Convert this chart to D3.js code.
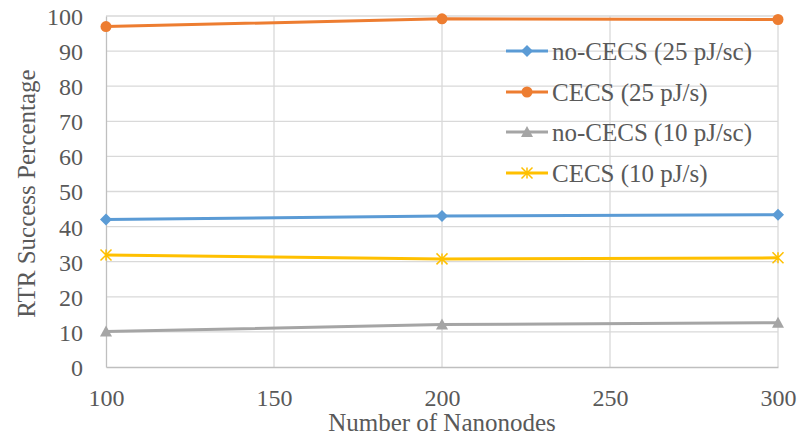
<!DOCTYPE html>
<html><head><meta charset="utf-8">
<script src="https://cdn.jsdelivr.net/npm/d3@7"></script>
<style>body{margin:0;background:#fff}svg{display:block}text{font-family:'Liberation Serif','Times New Roman',serif}</style>
</head><body>
<script>
const nodes = [100, 200, 300];
const noCecs25 = [42, 43, 43.4];
const cecs25 = [97, 99.2, 99];
const noCecs10 = [10.1, 12.1, 12.6];
const cecs10 = [31.9, 30.8, 31.1];
const seriesNames = ["no-CECS (25 pJ/sc)", "CECS (25 pJ/s)", "no-CECS (10 pJ/sc)", "CECS (10 pJ/s)"];
const seriesColors = ["#5b9bd5", "#ed7d31", "#a5a5a5", "#ffc000"];
const seriesMarkers = ["diamond", "circle", "triangle", "star"];
const xTicks = [100, 150, 200, 250, 300];
const yTicks = [0, 10, 20, 30, 40, 50, 60, 70, 80, 90, 100];

const W = 802, H = 442;
const FF = "'Liberation Serif', 'Times New Roman', serif";
const svg = d3.select("body").append("svg").attr("width", W).attr("height", H)
  .attr("font-family", FF);
const x = d3.scaleLinear().domain([100, 300]).range([106, 778]);
const y = d3.scaleLinear().domain([0, 100]).range([367, 16]);

// gridlines
svg.append("g").selectAll("line").data(yTicks.slice(1)).join("line")
  .attr("x1", x(100)).attr("x2", x(300)).attr("y1", d => y(d)).attr("y2", d => y(d))
  .attr("stroke", "#d9d9d9").attr("stroke-width", 1.3);
svg.append("g").selectAll("line").data(xTicks.slice(1)).join("line")
  .attr("x1", d => x(d)).attr("x2", d => x(d)).attr("y1", y(0)).attr("y2", y(100))
  .attr("stroke", "#d9d9d9").attr("stroke-width", 1.3);

// axes
const yAxis = svg.append("g").attr("transform", `translate(${x(100)},0)`)
  .call(d3.axisLeft(y).tickValues(yTicks).tickSize(0).tickPadding(23));
const xAxis = svg.append("g").attr("transform", `translate(0,${y(0)})`)
  .call(d3.axisBottom(x).tickValues(xTicks).tickSize(0).tickPadding(10));
[yAxis, xAxis].forEach(a => {
  a.attr("font-family", FF).attr("font-size", 24);
  a.select(".domain").attr("stroke", "#bfbfbf").attr("stroke-width", 1.3);
  a.selectAll("text").attr("fill", "#595959");
});
yAxis.selectAll("text").attr("dy", "0.35em");
xAxis.selectAll("text").attr("dy", null).attr("y", 39);

// titles
svg.append("text").attr("x", 442).attr("y", 431)
  .attr("text-anchor", "middle").attr("fill", "#595959").attr("font-size", 25)
  .text("Number of Nanonodes");
svg.append("text").attr("transform", `translate(35,${(y(0) + y(100)) / 2 + 2}) rotate(-90)`)
  .attr("text-anchor", "middle").attr("fill", "#595959").attr("font-size", 25)
  .text("RTR Success Percentage");

const allSeries = [noCecs25, cecs25, noCecs10, cecs10];
const line = d3.line().x((d, i) => x(nodes[i])).y(d => y(d));

function drawMarker(g, type, color, cx, cy) {
  if (type === "diamond") {
    g.append("path").attr("d", `M${cx},${cy - 6}L${cx + 6},${cy}L${cx},${cy + 6}L${cx - 6},${cy}Z`).attr("fill", color);
  } else if (type === "circle") {
    g.append("circle").attr("cx", cx).attr("cy", cy).attr("r", 5.5).attr("fill", color);
  } else if (type === "triangle") {
    g.append("path").attr("d", `M${cx},${cy - 6}L${cx + 6},${cy + 5}L${cx - 6},${cy + 5}Z`).attr("fill", color);
  } else if (type === "star") {
    const r = 5.5;
    g.append("path").attr("d", `M${cx - r},${cy - r}L${cx + r},${cy + r}M${cx - r},${cy + r}L${cx + r},${cy - r}M${cx},${cy - r}L${cx},${cy + r}`)
      .attr("stroke", color).attr("stroke-width", 1.5).attr("fill", "none");
  }
}

allSeries.forEach((vals, si) => {
  const g = svg.append("g");
  g.append("path").datum(vals).attr("d", line).attr("fill", "none")
    .attr("stroke", seriesColors[si]).attr("stroke-width", 3);
  vals.forEach((v, i) => drawMarker(g, seriesMarkers[si], seriesColors[si], x(nodes[i]), y(v)));
});

// legend
const legY = [51, 92, 132, 173];
seriesNames.forEach((name, i) => {
  const g = svg.append("g");
  g.append("line").attr("x1", 506).attr("x2", 548).attr("y1", legY[i]).attr("y2", legY[i])
    .attr("stroke", seriesColors[i]).attr("stroke-width", 3);
  drawMarker(g, seriesMarkers[i], seriesColors[i], 527, legY[i]);
  g.append("text").attr("x", 552).attr("y", legY[i]).attr("dy", "0.35em")
    .attr("fill", "#595959").attr("font-size", 25).text(name);
});
</script>
</body></html>
